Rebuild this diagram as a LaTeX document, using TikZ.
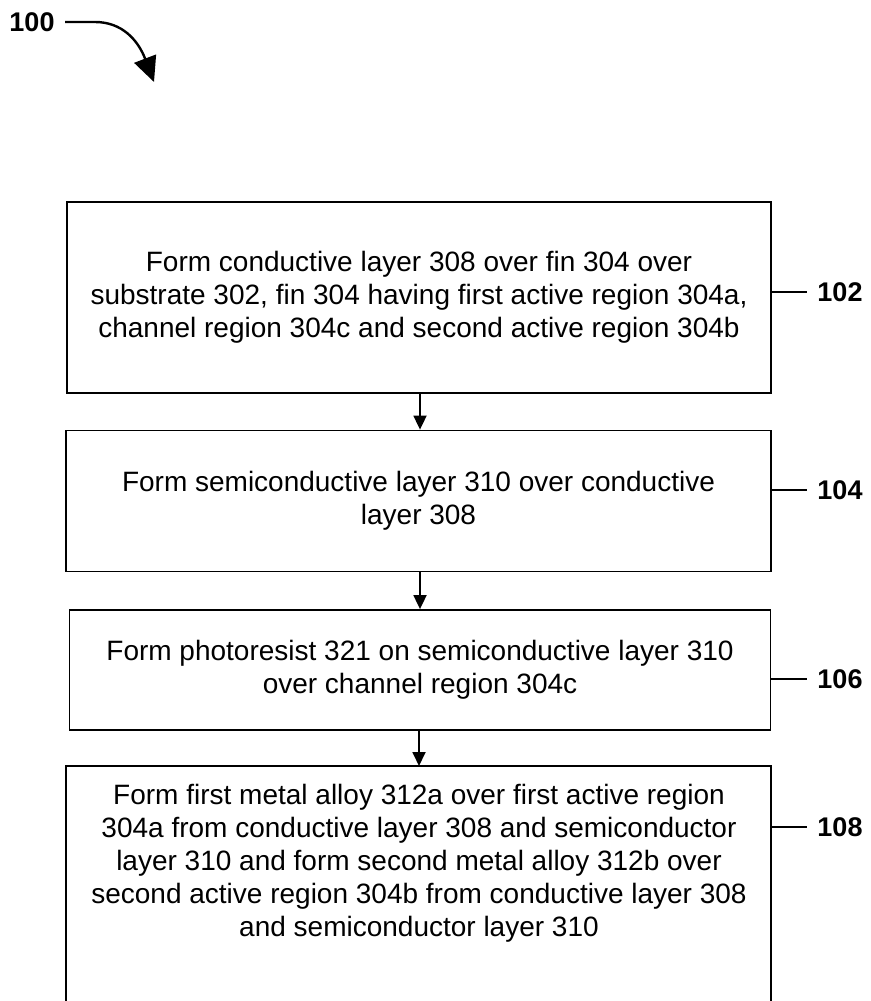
\documentclass[tikz,border=0pt]{standalone}
\usepackage{fontspec}
\setmainfont{Liberation Sans}
\usetikzlibrary{arrows.meta}
\begin{document}
\begin{tikzpicture}[x=1pt,y=-1pt,
  stepbox/.style={draw, line width=1.8pt, inner sep=0pt, align=center,
    font=\fontsize{28}{33}\selectfont},
  steptext/.style={inner sep=0pt, align=center,
    font=\fontsize{28}{33}\selectfont},
  reflabel/.style={inner sep=0pt, font=\fontsize{27}{30}\selectfont\bfseries},
  flow/.style={line width=1.8pt, -{Triangle[length=14pt,width=13pt]}},
  tick/.style={line width=1.8pt}]
\useasboundingbox (0,0) rectangle (870,1001);

% figure reference
\node[reflabel] (fig) at (32,22) {100};
\coordinate (figstart) at (65,22);
\coordinate (figtip) at (154,82);
\draw[line width=2.4pt, -{Triangle[length=25pt,width=23pt]}]
  (figstart) -- (95,22) .. controls (122,22) and (138,40) .. (figtip);

% process steps
\node[stepbox, minimum width=704pt, minimum height=191pt] (s1) at (419,297.5)
  {Form conductive layer 308 over fin 304 over\\
   substrate 302, fin 304 having first active region 304a,\\
   channel region 304c and second active region 304b};
\node[stepbox, minimum width=705pt, minimum height=141pt] (s2) at (418.5,501)
  {Form semiconductive layer 310 over conductive\\ layer 308};
\node[stepbox, minimum width=701pt, minimum height=120pt] (s3) at (420,670)
  {Form photoresist 321 on semiconductive layer 310\\ over channel region 304c};

% last step continues past the lower edge
\node[steptext] (s4) at (419,863)
  {Form first metal alloy 312a over first active region\\
   304a from conductive layer 308 and semiconductor\\
   layer 310 and form second metal alloy 312b over\\
   second active region 304b from conductive layer 308\\
   and semiconductor layer 310};
\coordinate (s4top) at (419,766);
\draw[line width=1.8pt] (66,1012) |- (771,766) -- (771,1012);

% connectors
\draw[flow] (s1.south -| 420,0) -- (s2.north -| 420,0);
\draw[flow] (s2.south -| 420,0) -- (s3.north -| 420,0);
\draw[flow] (s3.south -| 419,0) -- (s4top);

% step reference labels
\node[reflabel] (l1) at (840,292) {102};
\node[reflabel] (l2) at (840,490) {104};
\node[reflabel] (l3) at (840,679) {106};
\node[reflabel] (l4) at (840,827) {108};
\draw[tick] (s1.east |- l1) -- (807,292);
\draw[tick] (s2.east |- l2) -- (807,490);
\draw[tick] (s3.east |- l3) -- (807,679);
\draw[tick] (771,827) -- (807,827);
\end{tikzpicture}
\end{document}
